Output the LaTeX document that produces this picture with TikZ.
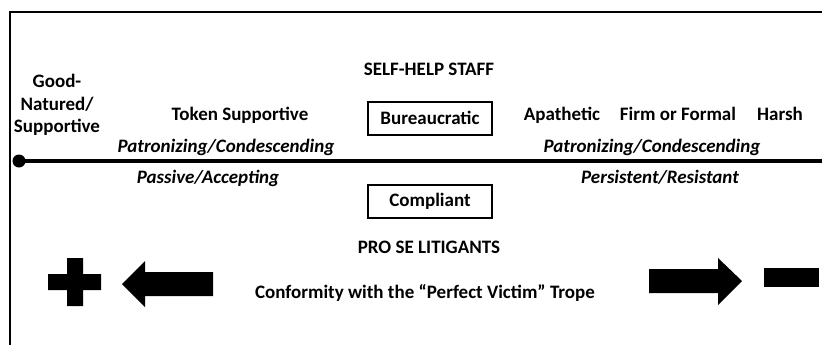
\documentclass[tikz,border=0pt]{standalone}
\usepackage{fontspec}
\setmainfont{Carlito}
\begin{document}
\begin{tikzpicture}[x=1pt,y=-1pt,
  lab/.style={font=\fontsize{19}{22.5}\selectfont\bfseries, inner sep=0pt, align=center},
  blab/.style={lab, anchor=base},
  ilab/.style={font=\fontsize{19}{22.5}\selectfont\bfseries\itshape, inner sep=0pt, anchor=base},
  boxed/.style={draw, line width=2pt, minimum width=124pt, minimum height=33pt, inner sep=0pt, font=\fontsize{19}{22}\selectfont\bfseries},
  blk/.style={fill=black, draw=none}]
\useasboundingbox (0,0) rectangle (822,345);
% frame
\draw[line width=1.5pt] (10,345) -- (10,12) -- (822,12);
% main line
\coordinate (L) at (19,161);
\coordinate (R) at (826,161);
\draw[line width=4.5pt] (L) -- (R);
\fill (L) circle (6.5pt);
\begin{scope}
\clip (0,0) rectangle (822,345);
\fill (R) circle (5pt);
\end{scope}
% upper labels
\node[lab] (good) at (57,105) {Good-\\Natured/\\Supportive};
\node[blab] (token) at (240,120) {Token Supportive};
\node[ilab] (patL) at (226,152) {Patronizing/Condescending};
\node[ilab] (pass) at (208,183) {Passive/Accepting};
\node[blab] (staff) at (429,75) {SELF-HELP STAFF};
\node[boxed] (bur) at (430,118) {Bureaucratic};
\node[boxed] (comp) at (430,201) {Compliant};
\node[blab] (prose) at (429,253) {PRO SE LITIGANTS};
\node[blab] (conf) at (425,298) {Conformity with the “Perfect Victim” Trope};
\node[blab] (apa) at (562,120) {Apathetic};
\node[blab] (firm) at (678,120) {Firm or Formal};
\node[blab] (harsh) at (780,120) {Harsh};
\node[ilab] (patR) at (652,152) {Patronizing/Condescending};
\node[ilab] (pers) at (660,183) {Persistent/Resistant};
% plus
\fill[blk] (67,258) -- (83,258) -- (83,274) -- (101,274) -- (101,290) -- (83,290) -- (83,306) -- (67,306) -- (67,290) -- (48,290) -- (48,274) -- (67,274) -- cycle;
% left arrow
\fill[blk] (122,284) -- (145,261) -- (145,272) -- (213,272) -- (213,296) -- (145,296) -- (145,307) -- cycle;
% right arrow
\fill[blk] (742,281) -- (718,258) -- (718,269) -- (649,269) -- (649,293) -- (718,293) -- (718,305) -- cycle;
% minus
\fill[blk] (764,268) rectangle (819,287);
\end{tikzpicture}
\end{document}
